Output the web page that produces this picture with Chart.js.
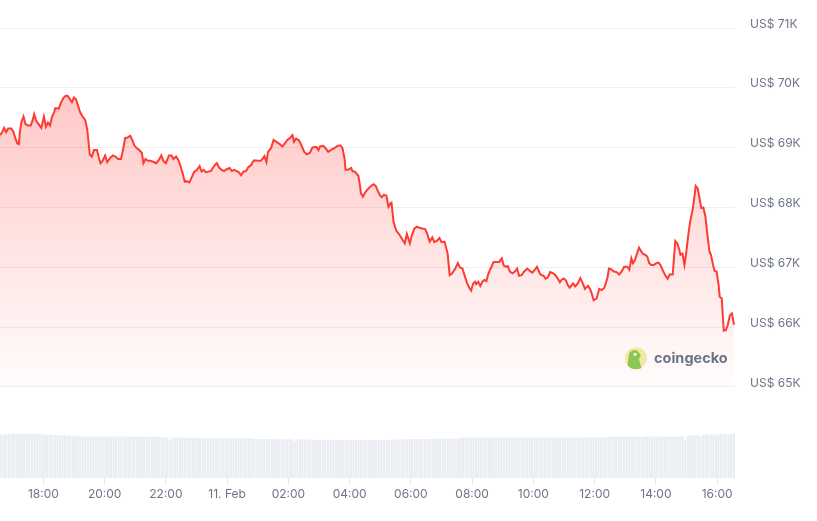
<!DOCTYPE html>
<html><head><meta charset="utf-8">
<script src="https://cdn.jsdelivr.net/npm/chart.js@4.4.1/dist/chart.umd.min.js"></script>
<style>html,body{margin:0;padding:0;background:#fff}#wrap{width:817px;height:521px;position:relative}</style>
</head><body><div id="wrap"><canvas id="c"></canvas></div>
<script>
// minutes since 10 Feb 00:00
const priceTimes=[995,1000,1003,1007,1011,1017,1021,1025,1029,1032,1034,1037,1041,1045,1050,1055,1059,1062,1066,1071,1076,1081,1085,1089,1093,1097,1101,1103,1107,1110,1114,1119,1124,1128,1132,1136,1140,1144,1148,1152,1157,1162,1166,1169,1171,1175,1179,1185,1189,1192,1196,1201,1205,1211,1216,1221,1226,1232,1236,1240,1245,1250,1254,1258,1263,1268,1273,1276,1280,1285,1290,1296,1301,1306,1311,1315,1320,1326,1331,1335,1340,1344,1348,1353,1357,1361,1366,
1370,1375,1381,1386,1390,1394,1398,1403,1408,1412,1416,1420,1424,1429,1434,1439,1445,1449,1454,1458,1463,1467,1472,1477,1481,1487,1490,1493,1500,1506,1510,1513,1517,1520,1526,1531,1536,1543,1548,1553,1558,1564,1568,1571,1575,1581,1586,1591,1596,1602,1607,1611,1615,1619,1622,1628,1633,1638,1645,1650,1656,1662,1666,1670,1672,1677,1683,1686,1690,1697,1700,1702,1706,1711,1717,1722,1727,1731,1735,1739,
1743,1747,1752,1756,1760,1762,1766,1771,1778,1783,1788,1792,1798,1802,1807,1812,1817,1822,1828,1832,1837,1842,1846,1851,1856,1860,1866,1872,1876,1881,1887,1892,1896,1901,1905,1910,1915,1918,1922,1926,1928,1932,1936,1940,1944,1948,1951,1955,1958,1962,1968,1973,1978,1982,1986,1990,1994,1999,2004,2008,2012,2017,2022,2028,2033,2038,2043,2047,2053,2056,2060,2064,2068,2073,2079,2084,2088,2092,2096,2100,2104,2107,2111,
2118,2122,2127,2132,2136,2141,2147,2151,2154,2158,2164,2169,2174,2179,2185,2188,2192,2198,2203,2208,2213,2218,2224,2228,2232,2235,2239,2243,2247,2251,2255,2259,2263,2267,2271,2276,2281,2285,2289,2293,2298,2303,2307,2313,2318,2322,2326,2328,2332,2336,2339,2343,2347,2352,2356,2358,2362,2366,2369,2373,2377,2381,2385,2388,2392,2395,2399,2403,2405,2409,2413,2417,2421,2425,2429,2433];
// price in thousand USD
const prices=[69.21,69.27,69.33,69.26,69.32,69.32,69.27,69.16,69.07,69.06,69.27,69.43,69.52,69.39,69.37,69.37,69.46,69.56,69.45,69.39,69.33,69.52,69.35,69.42,69.37,69.52,69.59,69.66,69.66,69.65,69.74,69.83,69.87,69.86,69.81,69.76,69.84,69.81,69.70,69.59,69.52,69.46,69.30,69.04,68.88,68.85,68.96,68.96,68.82,68.74,68.78,68.87,68.76,68.83,68.87,68.85,68.81,68.81,68.96,69.16,69.17,69.20,69.13,69.04,68.99,68.96,68.91,68.74,68.81,68.78,68.78,68.76,68.74,68.79,68.87,68.78,68.74,68.87,68.87,68.81,68.85,68.80,68.71,68.57,68.43,68.44,68.42,
68.49,68.59,68.63,68.69,68.60,68.63,68.59,68.60,68.61,68.66,68.71,68.74,68.67,68.63,68.61,68.64,68.66,68.61,68.63,68.61,68.59,68.54,68.60,68.61,68.67,68.71,68.76,68.79,68.78,68.78,68.82,68.86,68.76,68.93,68.99,69.13,69.10,69.06,69.02,69.07,69.13,69.17,69.21,69.10,69.15,69.12,69.03,68.93,68.89,68.91,69.00,69.01,69.01,68.96,69.02,69.03,68.99,68.93,68.97,68.99,69.03,69.04,68.99,68.82,68.63,68.63,68.66,68.60,68.60,68.53,68.38,68.24,68.18,68.26,68.32,68.36,68.39,68.36,68.28,68.21,
68.17,68.21,68.20,68.01,68.07,68.08,67.76,67.62,67.54,67.47,67.40,67.56,67.40,67.54,67.65,67.68,67.66,67.65,67.64,67.56,67.43,67.50,67.42,67.44,67.49,67.42,67.43,67.23,66.87,66.90,66.98,67.07,67.00,66.98,66.87,66.74,66.65,66.61,66.73,66.76,66.72,66.76,66.69,66.76,66.79,66.77,66.87,66.96,67.01,67.09,67.09,67.09,67.15,67.03,67.01,67.02,66.93,66.90,66.93,66.98,66.86,66.87,66.93,66.98,66.94,66.91,66.96,67.01,66.89,66.87,66.86,66.81,66.83,66.92,66.90,66.86,66.81,66.75,66.80,66.81,66.78,66.71,66.66,
66.73,66.68,66.73,66.82,66.75,66.64,66.69,66.64,66.57,66.45,66.48,66.64,66.62,66.66,66.82,66.98,66.97,66.93,66.92,66.88,66.93,67.01,67.01,66.96,67.15,67.07,67.12,67.23,67.33,67.27,67.22,67.21,67.18,67.07,67.04,67.04,67.07,67.08,67.04,66.96,66.87,66.81,66.88,66.88,67.44,67.40,67.29,67.21,67.23,67.04,67.21,67.51,67.76,67.96,68.21,68.36,68.32,68.13,67.99,68.00,67.85,67.54,67.26,67.21,67.04,66.94,66.93,66.70,66.51,66.48,65.94,65.95,66.04,66.20,66.23,66.04];
// 24h volume, billion USD, one bar per 5 minutes from 16:37:30
const volumes=[32.7,32.7,32.9,33.0,33.0,33.2,33.2,33.3,33.3,33.4,33.4,33.4,33.4,33.4,33.3,33.3,33.2,
32.6,32.5,32.4,32.3,32.3,32.3,32.2,32.2,32.0,31.9,31.8,31.7,31.7,31.6,
31.3,31.2,31.2,31.2,31.2,31.2,31.2,31.1,31.2,31.2,31.2,31.1,31.1,31.1,31.2,31.1,31.1,31.1,31.1,31.0,31.0,31.0,30.8,31.0,31.0,31.0,30.9,30.9,30.8,30.9,30.9,30.8,30.8,
30.5,30.3,28.6,30.2,30.3,30.3,30.3,30.3,30.2,30.0,30.2,30.2,30.1,30.1,30.1,30.0,30.0,30.0,29.9,30.0,30.0,29.9,29.9,29.9,29.8,29.8,29.9,29.9,29.8,29.8,29.7,29.7,29.8,29.8,29.7,
29.4,29.3,29.3,29.2,29.2,29.2,29.3,29.2,29.2,29.1,29.1,29.1,29.0,29.1,29.0,28.8,27.8,29.0,29.1,28.9,28.9,28.8,28.8,28.7,28.7,28.7,28.7,28.7,28.7,28.7,28.6,28.6,28.6,28.6,28.6,28.6,28.6,28.6,28.6,28.6,28.6,28.6,28.6,28.6,28.6,28.6,28.6,28.6,28.6,28.6,28.6,28.6,28.7,28.7,28.7,28.8,28.8,28.9,28.9,29.0,
29.2,29.2,29.3,29.3,29.3,29.3,29.3,29.3,29.3,29.3,29.3,29.3,29.4,29.4,29.5,29.6,29.6,29.6,29.1,29.5,29.6,
30.3,30.4,30.4,30.3,30.4,30.3,30.4,30.4,30.4,30.4,30.4,30.4,30.4,30.4,30.4,30.4,30.3,30.4,30.4,30.4,30.4,30.4,30.4,30.4,30.4,30.4,30.4,30.4,30.4,30.4,30.4,30.4,30.4,30.4,30.4,30.4,30.4,30.4,30.4,30.4,30.4,30.4,30.4,30.4,30.4,30.4,30.4,30.4,30.4,30.4,30.5,30.5,30.5,30.5,30.6,30.6,30.7,30.8,30.8,
31.0,31.1,31.1,31.1,31.0,31.2,31.2,31.1,30.6,31.1,31.1,31.0,31.0,31.1,31.1,31.1,31.1,31.1,31.1,31.1,31.1,31.1,31.1,31.0,31.0,30.8,31.0,
31.2,31.4,28.8,31.6,32.0,32.3,32.3,32.4,31.5,32.4,32.6,32.7,32.7,32.7,31.9,32.9,33.0,33.0,33.1,32.4,33.2,33.3];
const volStart=997.5, volStep=5;
const yTickValues=[65,66,67,68,69,70,71];
const xTickValues=[1080,1200,1320,1440,1560,1680,1800,1920,2040,2160,2280,2400];
const xTickLabels=['18:00','20:00','22:00','11. Feb','02:00','04:00','06:00','08:00','10:00','12:00','14:00','16:00'];

const lineData=priceTimes.map((t,i)=>({x:t,y:prices[i]}));
const volData=volumes.map((v,i)=>({x:volStart+i*volStep,y:v}));
const xLabelMap={};xTickValues.forEach((v,i)=>xLabelMap[v]=xTickLabels[i]);

const tickColor='#6c7589';
const font={family:'Inter, "Noto Sans", sans-serif',size:12};

const watermark={id:'wm',afterDatasetsDraw(chart){
  const c=chart.ctx,a=chart.chartArea,y=chart.scales.y;
  const cy=y.getPixelForValue(65.48), cx=a.right-99;
  c.save();
  c.beginPath();c.arc(cx,cy,11,0,Math.PI*2);c.fillStyle='#f4e9a4';c.fill();
  c.save();c.beginPath();c.arc(cx,cy,11,0,Math.PI*2);c.clip();
  c.beginPath();
  c.moveTo(cx-9,cy+12);c.lineTo(cx-7,cy-4);c.quadraticCurveTo(cx-5,cy-9,cx+1,cy-8);
  c.lineTo(cx+5,cy-3);c.lineTo(cx+3,cy+1);c.lineTo(cx+6,cy+12);c.closePath();
  c.fillStyle='#8cc751';c.fill();
  c.restore();
  c.beginPath();c.arc(cx-1,cy-4,1.5,0,Math.PI*2);c.fillStyle='#ffffff';c.fill();
  c.font='bold 14.5px Inter, "Noto Sans", sans-serif';c.fillStyle='#6b7487';c.textBaseline='middle';c.textAlign='left';
  c.fillText('coingecko',a.right-81,cy);
  c.restore();
}};

new Chart(document.getElementById('c'),{
  type:'line',
  data:{datasets:[
    {type:'line',data:lineData,yAxisID:'y',borderColor:'#ff3a33',borderWidth:2,pointRadius:0,tension:0,
     fill:{value:65},
     backgroundColor:(ctx)=>{const ch=ctx.chart;if(!ch.chartArea)return 'rgba(255,58,51,0.15)';
       const s=ch.scales.y;const g=ch.ctx.createLinearGradient(0,s.getPixelForValue(69.9),0,s.getPixelForValue(65));
       g.addColorStop(0,'rgba(255,58,51,0.28)');g.addColorStop(1,'rgba(255,58,51,0.01)');return g;}},
    {type:'bar',data:volData,yAxisID:'v',backgroundColor:'#e9edf1',barPercentage:0.85,categoryPercentage:1,borderWidth:0}
  ]},
  options:{
    responsive:true,maintainAspectRatio:false,animation:false,
    layout:{padding:{top:0,left:0,right:0,bottom:0}},
    plugins:{legend:{display:false},tooltip:{enabled:false}},
    scales:{
      x:{type:'linear',min:995,max:2435,offset:false,
        afterBuildTicks:s=>{s.ticks=xTickValues.map(v=>({value:v}));},
        afterFit:s=>{s.height=43;},
        grid:{display:true,offset:false,drawOnChartArea:false,drawTicks:true,tickLength:6,color:'#e3e6ea'},
        border:{display:false},
        ticks:{autoSkip:false,maxRotation:0,padding:3,color:tickColor,font,callback:v=>xLabelMap[v]||''}},
      y:{position:'right',min:63.479,max:71.097,
        afterBuildTicks:s=>{s.ticks=yTickValues.map(v=>({value:v}));},
        afterFit:s=>{s.width=82;},
        grid:{color:'#eceff3',drawTicks:false,lineWidth:1},
        border:{display:false},
        ticks:{padding:15,labelOffset:-4,color:tickColor,font,callback:v=>'US$ '+v+'K'}},
      v:{display:false,min:0,max:342,grid:{display:false}}
    }
  },
  plugins:[watermark]
});
</script></body></html>
